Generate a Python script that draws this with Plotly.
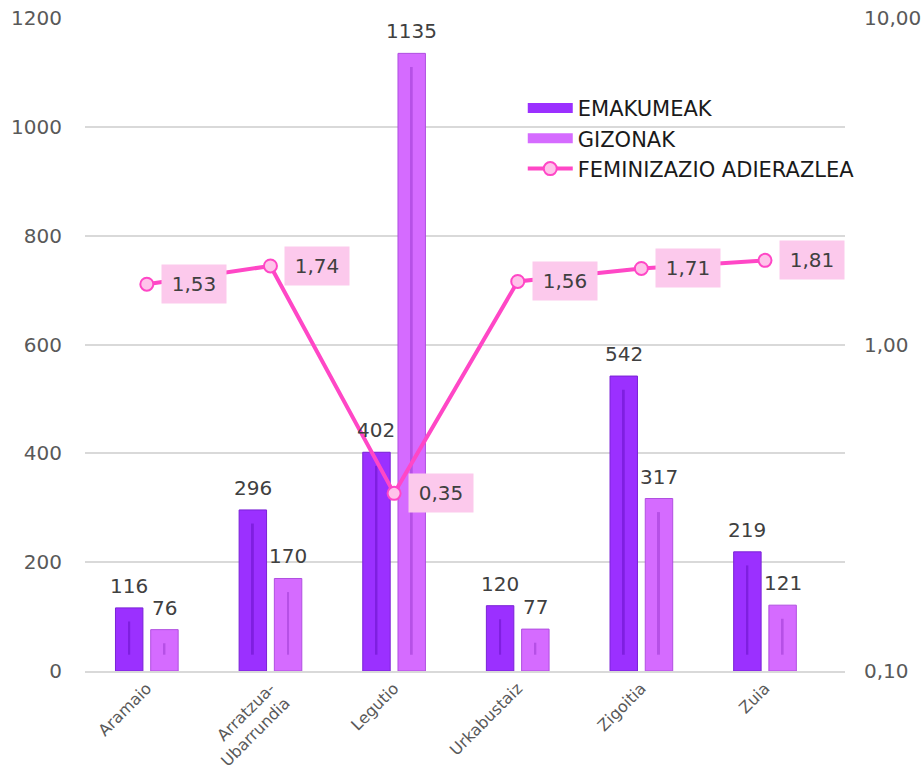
import math
import plotly.graph_objects as go

# Data
herriak = ["Aramaio", "Arratzua-<br>Ubarrundia", "Legutio", "Urkabustaiz", "Zigoitia", "Zuia"]
emakumeak = [116, 296, 402, 120, 542, 219]
gizonak = [76, 170, 1135, 77, 317, 121]
feminizazioa = [1.53, 1.74, 0.35, 1.56, 1.71, 1.81]
ezker_ticks = [0, 200, 400, 600, 800, 1000, 1200]
eskuin_ticks = [0.1, 1, 10]
eskuin_testuak = ["0,10", "1,00", "10,00"]

FONT = "DejaVu Sans"
TEXT_COLOR = "#595959"
VALUE_COLOR = "#404040"

C_EMA = "#9B30FF"
C_EMA_EDGE = "#7A22D6"
C_GIZ = "#D56BFF"
C_GIZ_EDGE = "#B04FE0"
C_LINE = "#FF47C6"
C_MARK = "#FFC3EA"
C_BOX = "#FCC9EC"

# bar geometry in category units
BAR_W = 0.222
OFF_EMA = -0.1425
OFF_GIZ = 0.1425
STRIPE_W = 0.016

fig = go.Figure()

fig.add_trace(go.Bar(
    x=herriak, y=emakumeak, name="EMAKUMEAK", showlegend=False,
    offset=OFF_EMA - BAR_W / 2, width=BAR_W,
    marker=dict(color=C_EMA, line=dict(color=C_EMA_EDGE, width=1)),
))
fig.add_trace(go.Bar(
    x=herriak, y=gizonak, name="GIZONAK", showlegend=False,
    offset=OFF_GIZ - BAR_W / 2, width=BAR_W,
    marker=dict(color=C_GIZ, line=dict(color=C_GIZ_EDGE, width=1)),
))

# thin darker stripe inside each bar (shading effect)
for vals, off, col in [(emakumeak, OFF_EMA, "#7F1FE0"), (gizonak, OFF_GIZ, "#B650E6")]:
    fig.add_trace(go.Bar(
        x=herriak, y=[max(v - 55, 8) for v in vals], base=30,
        offset=off - STRIPE_W / 2, width=STRIPE_W,
        marker=dict(color=col, line=dict(width=0)),
        showlegend=False, hoverinfo="skip",
    ))

# wide rectangular legend swatches for the two bar series
for name, col in [("EMAKUMEAK", C_EMA), ("GIZONAK", C_GIZ)]:
    fig.add_trace(go.Scatter(
        x=[None], y=[None], name=name, mode="lines",
        line=dict(color=col, width=16), hoverinfo="skip",
    ))

fig.add_trace(go.Scatter(
    x=herriak, y=feminizazioa, name="FEMINIZAZIO ADIERAZLEA",
    yaxis="y2", mode="lines+markers",
    line=dict(color=C_LINE, width=4),
    marker=dict(size=13, color=C_MARK, line=dict(color=C_LINE, width=2)),
    cliponaxis=False,
))

# value labels above the bars
for vals, off in [(emakumeak, OFF_EMA), (gizonak, OFF_GIZ)]:
    for i, v in enumerate(vals):
        fig.add_annotation(
            x=i + off, y=v, xref="x", yref="y",
            text=str(v), showarrow=False, yanchor="bottom", yshift=8,
            font=dict(size=20, color=VALUE_COLOR, family=FONT),
        )

# value labels for the ratio line
for i, v in enumerate(feminizazioa):
    fig.add_annotation(
        x=i, y=math.log10(v), xref="x", yref="y2",
        text=f"{v:.2f}".replace(".", ","), showarrow=False,
        xshift=47, bgcolor=C_BOX, borderpad=7, width=50, height=24,
        font=dict(size=20, color=VALUE_COLOR, family=FONT),
    )

fig.update_layout(
    width=924, height=772,
    margin=dict(l=85, r=79, t=18, b=101),
    paper_bgcolor="white", plot_bgcolor="white",
    barmode="overlay",
    font=dict(family=FONT, color=TEXT_COLOR),
    showlegend=True,
    legend=dict(
        x=0.576, y=0.893, xanchor="left", yanchor="top",
        font=dict(size=21, color="#1a1a1a", family=FONT),
        bgcolor="rgba(0,0,0,0)", traceorder="normal", itemwidth=45,
        tracegroupgap=0,
    ),
    xaxis=dict(
        tickangle=-45, tickfont=dict(size=16, color=TEXT_COLOR),
        showline=True, linecolor="#D9D9D9", linewidth=1.5,
        ticks="", showgrid=False, automargin=False,
    ),
    yaxis=dict(
        range=[0, 1200], tickvals=ezker_ticks,
        tickfont=dict(size=20, color=TEXT_COLOR),
        showgrid=True, gridcolor="#D9D9D9", gridwidth=1.5,
        zeroline=False, ticks="outside", ticklen=18, tickcolor="rgba(0,0,0,0)",
        automargin=False,
    ),
    yaxis2=dict(
        overlaying="y", side="right", type="log", range=[-1, 1],
        tickvals=eskuin_ticks, ticktext=eskuin_testuak,
        tickfont=dict(size=20, color=TEXT_COLOR),
        showgrid=False, zeroline=False, showline=False,
        ticks="outside", ticklen=14, tickcolor="rgba(0,0,0,0)",
        automargin=False,
    ),
)

fig.write_html("out.html")
